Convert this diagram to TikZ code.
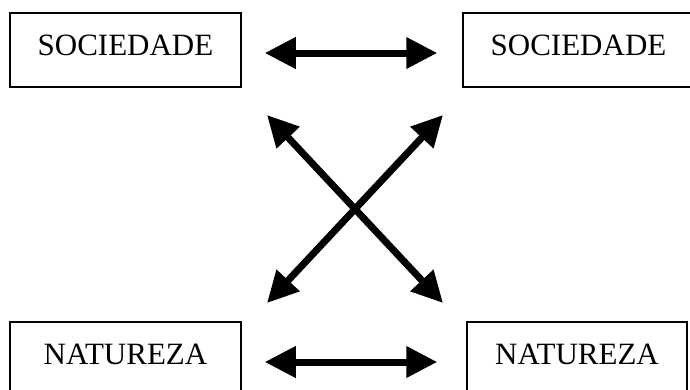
\documentclass[tikz,border=0pt]{standalone}
\usepackage{fontspec}
\setmainfont{Liberation Serif}
\usetikzlibrary{arrows.meta}
\begin{document}
\begin{tikzpicture}[x=1pt,y=1pt,
        caixa/.style={draw,line width=1.5pt,minimum height=74pt,inner sep=0pt,
            text height=22pt,text depth=12pt,font=\fontsize{31}{31}\selectfont},
        seta/.style={line width=7pt,
            {Triangle[length=31pt,width=30pt]}-{Triangle[length=31pt,width=30pt]}}]
        \useasboundingbox (0,0) rectangle (690,-389);
        \clip (0,0) rectangle (690,-389);
        \node[caixa,minimum width=231pt] (socE) at (125.5,-50) {SOCIEDADE};
        \node[caixa,minimum width=231pt] (socD) at (578.5,-50) {SOCIEDADE};
        \node[caixa,minimum width=231pt] (natE) at (125.5,-359) {NATUREZA};
        \node[caixa,minimum width=220pt] (natD) at (577,-359) {NATUREZA};
        \coordinate (xa) at (267,-115);
        \coordinate (xb) at (443,-115);
        \coordinate (xc) at (267,-303);
        \coordinate (xd) at (443,-303);
        \draw[seta,shorten <=23pt,shorten >=25pt]
            ([yshift=-3pt]socE.east) -- ([yshift=-3pt]socD.west);
        \draw[seta,shorten <=23pt,shorten >=29pt]
            ([yshift=-3pt]natE.east) -- ([yshift=-3pt]natD.west);
        \draw[seta] (xa) -- (xd);
        \draw[seta] (xb) -- (xc);
\end{tikzpicture}
\end{document}
